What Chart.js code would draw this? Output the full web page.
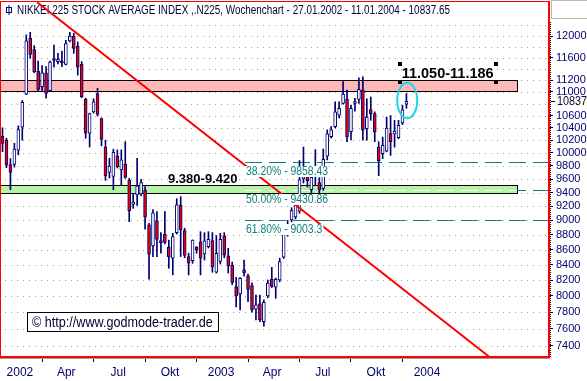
<!DOCTYPE html>
<html>
<head>
<meta charset="utf-8">
<script src="https://cdn.jsdelivr.net/npm/chart.js@4/dist/chart.umd.min.js"></script>
<style>
  html, body { margin: 0; padding: 0; background: #fff; }
  canvas { display: block; }
</style>
</head>
<body>
<canvas id="nikkeiChart" width="587" height="381"></canvas>
<script>
var opens = [10260,10200,9820,9820,10040,10410,10960,11960,11750,11360,
  11090,11330,11020,11560,11530,11530,11480,11910,12000,11810,
  11480,10870,10310,10660,10970,10550,10090,9700,9640,9951,
  9737,9828,9585,9226,9364,9378,9437,8936,8647,8992,
  8705,8807,8631,8485,8829,9213,8857,8506,8450,8631,
  8705,8540,8638,8720,8300,8440,8784,8514,8395,8118,
  8024,8330,8253,8129,7834,7900,7685,8000,8210,8110,
  8200,8497,8800,9006,9050,9130,9600,9640,9440,9665,
  9545,9460,9950,10257,10416,10605,10800,10870,10335,10800,
  10870,11028,10384,10700,10630,10090,9988,10025,10305,10300,
  10240,10480,10790];
var highs = [10400,10230,9910,10150,10430,10850,12020,12070,11820,11540,
  11460,11440,11540,11830,11680,11720,11920,12070,12050,11890,
  11530,10890,10640,10880,11060,10560,10200,9915,10057,10046,
  10046,10176,9610,9388,9914,9596,9486,8960,9152,9123,
  8829,9123,8727,8820,9310,9339,8890,8550,8730,8640,
  8843,8829,8843,8830,8790,8820,8829,8616,8434,8234,
  8230,8460,8277,8165,8010,8010,7950,8200,8365,8225,
  8485,8820,9000,9180,9250,9880,10090,9760,9690,10050,
  9620,10060,10365,10420,10830,10830,11175,11030,10775,10890,
  11240,11260,10880,10910,10660,10175,10250,10576,10600,10520,
  10520,10770,10970];
var lows = [10020,9770,9440,9780,9970,10200,10950,11590,11330,11000,
  11000,10890,11000,11430,11490,11440,11470,11890,11680,11290,
  10900,10230,10090,10640,10590,10110,9580,9615,9440,9766,
  9511,9610,8982,9171,9213,9350,8876,8210,8506,8506,
  8550,8674,8352,8266,8811,8506,8490,8266,8417,8550,
  8266,8460,8620,8300,8290,8407,8490,8290,8140,7862,
  7826,8250,7928,7800,7705,7685,7630,7975,8105,7970,
  8177,8480,8780,8980,9020,9100,9540,9480,9400,9500,
  9390,9430,9890,10235,10395,10560,10790,10175,10203,10670,
  10800,10200,10200,10520,10175,9650,9910,10015,9960,10090,
  10225,10450,10720];
var closes = [10150,9810,9700,10060,10370,10820,11910,11660,11350,11040,
  11330,10970,11520,11550,11570,11510,11860,12000,11770,11430,
  10910,10310,10630,10830,10620,10210,9650,9795,10010,9786,
  9890,9625,9138,9259,9500,9545,9044,8537,9108,8738,
  8692,8697,8506,8774,9222,8866,8520,8417,8727,8594,
  8485,8718,8738,8370,8550,8738,8523,8382,8168,8000,
  8222,8290,8080,7826,7888,7705,7920,8162,8118,8210,
  8440,8807,8840,9137,9218,9590,9635,9575,9625,9630,
  9436,9900,10300,10365,10660,10720,10960,10256,10720,10830,
  11043,10360,10576,10630,10330,9880,10118,10395,10175,10345,
  10440,10695,10837.65];

// x-Achse (Wochenindex): Quartalsgrenzen und Beschriftungen
var quarterTicks = [10, 23, 36, 49, 62, 75, 88, 101];
var monthLabels = ['2002', 'Apr', 'Jul', 'Okt', '2003', 'Apr', 'Jul', 'Okt', '2004'];
var monthLabelPos = [4.4, 16.1, 29.2, 42.3, 55.2, 68.1, 80.9, 94.3, 107.2];

// y-Achse (logarithmisch)
var yTicks = [7400, 7600, 7800, 8000, 8200, 8400, 8600, 8800, 9000, 9200, 9400, 9600,
  9800, 10000, 10200, 10400, 10600, 10800, 11000, 11200, 11400, 11600, 11800, 12000, 12200];
var hiddenLabels = [10800, 11400, 11800, 12200];

// Zonen, Fibonacci, Trendlinie
var resistZone = [11018, 11204];
var supportZone = [9389, 9507];
var zoneEnd = 129.9;
var fibLevels = [9858.43, 9430.86, 9003.3];
var fibLabels = ['38.20% - 9858.43', '50.00% - 9430.86', '61.80% - 9003.3'];
var fibStart = 61.24;
var trendLine = [[8.74, 12650], [122.9, 7275]];

var titleText = 'NIKKEI 225 STOCK AVERAGE INDEX ,.N225, Wochenchart - 27.01.2002 - 11.01.2004 - 10837.65';
var resistText = '11.050-11.186';
var supportText = '9.380-9.420';
var resistTextX = 100.8;
var supportTextX = 41.8;
var circleAt = [102.2, 10852];
var copyText = '\u00a9 http://www.godmode-trader.de';

var ARIAL = "'Liberation Sans', Arial, sans-serif";
var NAVY = '#000070';
var TEAL = '#0f8078';
Chart.defaults.font.family = ARIAL;

// schmale Schrift: Text horizontal gestaucht zeichnen
function narrowText(ctx, text, x, y, size, sx) {
  ctx.save();
  ctx.font = size + 'px ' + ARIAL;
  ctx.translate(x, y);
  ctx.scale(sx, 1);
  ctx.fillText(text, 0, 0);
  var w = ctx.measureText(text).width * sx;
  ctx.restore();
  return w;
}
function narrowWidth(ctx, text, size, sx) {
  ctx.save();
  ctx.font = size + 'px ' + ARIAL;
  var w = ctx.measureText(text).width * sx;
  ctx.restore();
  return w;
}

function drawZone(ctx, a, xs, ys, zone, color) {
  var top = Math.round(ys.getPixelForValue(zone[1]));
  var bot = Math.round(ys.getPixelForValue(zone[0]));
  var right = Math.round(xs.getPixelForValue(zoneEnd));
  ctx.fillStyle = color;
  ctx.fillRect(a.left, top, right - a.left, bot - top);
  ctx.fillStyle = '#000000';
  ctx.fillRect(a.left, top, right - a.left, 1);
  ctx.fillRect(a.left, bot, right - a.left + 1, 1);
  ctx.fillRect(right, top, 1, bot - top);
}

var deko = {
  id: 'deko',
  beforeDatasetsDraw: function (chart) {
    var ctx = chart.ctx, a = chart.chartArea, xs = chart.scales.x, ys = chart.scales.y;
    ctx.save();
    // gepunktete Gitterlinien
    ctx.fillStyle = '#a4a4a4';
    yTicks.forEach(function (v) {
      var py = Math.round(ys.getPixelForValue(v));
      for (var px = a.left + 4; px < a.right; px += 6) ctx.fillRect(px, py, 1, 1);
    });
    drawZone(ctx, a, xs, ys, resistZone, '#ffb8b8');
    drawZone(ctx, a, xs, ys, supportZone, '#b4f4a4');

    // Fibonacci-Linien
    var fx = Math.round(xs.getPixelForValue(fibStart));
    ctx.lineWidth = 1;
    ctx.setLineDash([17, 7]);
    fibLevels.forEach(function (lv) {
      var py = Math.round(ys.getPixelForValue(lv)) + 0.5;
      ctx.strokeStyle = TEAL;
      ctx.beginPath(); ctx.moveTo(fx, py); ctx.lineTo(a.right, py); ctx.stroke();
      if (lv > supportZone[0] && lv < supportZone[1]) {
        ctx.strokeStyle = '#ffffff';
        ctx.beginPath(); ctx.moveTo(fx, py); ctx.lineTo(xs.getPixelForValue(zoneEnd), py); ctx.stroke();
      }
    });
    ctx.setLineDash([]);

    // Titel
    ctx.fillStyle = '#000030';
    ctx.textBaseline = 'alphabetic';
    narrowText(ctx, titleText, a.left + 16, a.top + 12, 12, 0.825);
    ctx.strokeStyle = NAVY;
    ctx.strokeRect(a.left + 5.5, a.top + 5.5, 5, 5);
    ctx.beginPath(); ctx.moveTo(a.left + 8, a.top + 3); ctx.lineTo(a.left + 8, a.top + 13); ctx.stroke();
    ctx.restore();
  },
  afterDatasetsDraw: function (chart) {
    var ctx = chart.ctx, a = chart.chartArea, xs = chart.scales.x, ys = chart.scales.y;
    ctx.save();
    ctx.textBaseline = 'alphabetic';

    // Fibonacci-Beschriftungen mit weissem Hintergrund
    var fx = Math.round(xs.getPixelForValue(fibStart));
    fibLevels.forEach(function (lv, k) {
      var py = Math.round(ys.getPixelForValue(lv));
      var w = narrowWidth(ctx, fibLabels[k], 13, 0.8);
      ctx.fillStyle = '#ffffff';
      ctx.fillRect(fx, py + 4, w + 2, 11);
      ctx.fillStyle = TEAL;
      narrowText(ctx, fibLabels[k], fx + 1, py + 12.5, 13, 0.8);
    });

    // Zonen-Texte
    ctx.fillStyle = '#000000';
    ctx.font = 'bold 13px ' + ARIAL;
    var sy = Math.round(ys.getPixelForValue(supportZone[1]));
    ctx.fillText(supportText, xs.getPixelForValue(supportTextX), sy - 2.5);

    ctx.font = 'bold 14.5px ' + ARIAL;
    var ry = Math.round(ys.getPixelForValue(resistZone[1]));
    var tx = xs.getPixelForValue(resistTextX);
    var tw = ctx.measureText(resistText).width;
    ctx.fillText(resistText, tx, ry - 2.5);
    var hl = tx - 2, hr = tx + tw + 2, ht = ry - 16.3, hb = ry + 1.7;
    [[hl, ht], [hr, ht], [hl, hb], [hr, hb]].forEach(function (p) {
      ctx.fillRect(Math.round(p[0] - 2), Math.round(p[1] - 2), 4, 4);
    });

    // Kreis um letzte Kerze
    ctx.strokeStyle = '#1ad4ea';
    ctx.lineWidth = 2;
    ctx.beginPath();
    ctx.ellipse(xs.getPixelForValue(circleAt[0]), ys.getPixelForValue(circleAt[1]), 10, 17.8, 0, 0, Math.PI * 2);
    ctx.stroke();

    // Copyright-Kasten
    ctx.lineWidth = 1;
    ctx.fillStyle = '#ffffff';
    ctx.fillRect(a.left + 26, a.bottom - 45, 191, 19);
    ctx.strokeStyle = '#000000';
    ctx.strokeRect(a.left + 26.5, a.bottom - 44.5, 191, 19);
    ctx.fillStyle = '#000033';
    narrowText(ctx, copyText, a.left + 31, a.bottom - 30.5, 14, 0.9);
    ctx.restore();
  },
  afterDraw: function (chart) {
    var ctx = chart.ctx, a = chart.chartArea, ys = chart.scales.y;
    ctx.save();
    // gepunktete Achsenlinie
    ctx.fillStyle = '#000000';
    for (var py = a.top + 20; py < a.bottom; py += 2) ctx.fillRect(a.right + 2, py, 1, 1);
    // roter Rahmen
    ctx.fillStyle = '#ff0000';
    ctx.fillRect(0, a.top - 1, 1, a.bottom - a.top + 1);
    ctx.fillRect(0, a.top - 1, a.right + 2, 1);
    ctx.fillRect(a.right, a.top - 1, 2, a.bottom - a.top + 1);
    ctx.fillRect(0, a.bottom - 1, a.right + 2, 2);
    ctx.fillStyle = '#a0a0a0';
    ctx.fillRect(0, a.bottom + 1, a.right + 2, 1);
    ctx.strokeStyle = '#b8b8b8';
    ctx.strokeRect(a.right + 3.5, 0.5, 40, 18);

    // letzter Kurs
    var last = closes[closes.length - 1];
    var lp = Math.round(ys.getPixelForValue(last));
    ctx.fillStyle = '#ffffe0';
    ctx.fillRect(a.right + 8, lp - 5, 40, 10);
    ctx.fillStyle = NAVY;
    ctx.fillRect(a.right + 3, lp, 4, 1);
    ctx.textBaseline = 'middle';
    narrowText(ctx, String(Math.floor(last)), a.right + 9, lp + 0.5, 12, 0.9);
    ctx.restore();
  }
};

var bodyData = opens.map(function (o, i) { return { x: i, y: [o, closes[i]] }; });
var wickData = lows.map(function (l, i) { return { x: i, y: [l, highs[i]] }; });

var ctx = document.getElementById('nikkeiChart');
var nikkeiChart = new Chart(ctx, {
  type: 'bar',
  data: {
    datasets: [
      {
        type: 'line',
        data: trendLine.map(function (p) { return { x: p[0], y: p[1] }; }),
        borderColor: '#ff0000',
        borderWidth: 2,
        pointRadius: 0,
        order: 0
      },
      {
        data: bodyData,
        backgroundColor: function (c) {
          var i = c.dataIndex;
          return closes[i] < opens[i] ? '#ec0000' : '#ffffff';
        },
        borderColor: NAVY,
        borderWidth: 1,
        borderSkipped: false,
        barThickness: 3,
        minBarLength: 2,
        grouped: false,
        order: 1
      },
      {
        data: wickData,
        backgroundColor: NAVY,
        borderWidth: 0,
        barThickness: 1,
        grouped: false,
        order: 2
      }
    ]
  },
  options: {
    responsive: false,
    animation: false,
    devicePixelRatio: 1,
    events: [],
    layout: { padding: { left: 1, top: 2, right: 0, bottom: 0 } },
    plugins: { legend: { display: false }, tooltip: { enabled: false } },
    scales: {
      x: {
        type: 'linear',
        min: -0.379,
        max: 137.75,
        offset: false,
        afterBuildTicks: function (axis) {
          var t = quarterTicks.concat(monthLabelPos).sort(function (p, q) { return p - q; });
          axis.ticks = t.map(function (v) { return { value: v }; });
        },
        afterFit: function (axis) {
          axis.height = 24;
          axis.paddingLeft = 0;
          axis.paddingRight = 0;
        },
        ticks: {
          autoSkip: false,
          maxRotation: 0,
          padding: 3,
          color: NAVY,
          font: { size: 12 },
          callback: function (v) {
            var k = monthLabelPos.indexOf(v);
            return k >= 0 ? monthLabels[k] : '';
          }
        },
        grid: {
          drawOnChartArea: false,
          tickLength: 5,
          offset: false,
          tickColor: function (c) {
            return c.tick && quarterTicks.indexOf(c.tick.value) >= 0 ? NAVY : 'rgba(0,0,0,0)';
          }
        },
        border: { display: false }
      },
      y: {
        type: 'logarithmic',
        position: 'right',
        min: 7272,
        max: 12654,
        bounds: 'data',
        afterBuildTicks: function (axis) {
          axis.ticks = yTicks.map(function (v) { return { value: v }; });
        },
        afterFit: function (axis) {
          axis.width = 39;
          axis.paddingTop = 0;
          axis.paddingBottom = 0;
        },
        ticks: {
          autoSkip: false,
          padding: 3,
          color: NAVY,
          font: { size: 11 },
          callback: function (v) { return hiddenLabels.indexOf(v) >= 0 ? '' : String(v); }
        },
        grid: {
          drawOnChartArea: false,
          tickLength: 5,
          tickColor: function (c) {
            return c.tick && hiddenLabels.indexOf(c.tick.value) < 0 ? NAVY : 'rgba(0,0,0,0)';
          }
        },
        border: { display: false }
      }
    }
  },
  plugins: [deko]
});
</script>
</body>
</html>
